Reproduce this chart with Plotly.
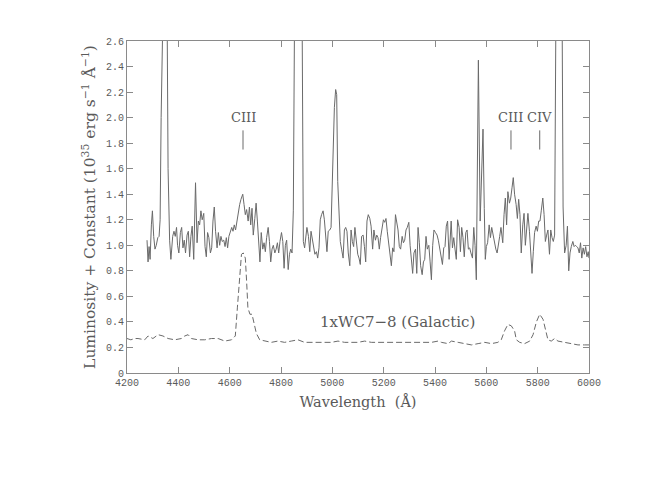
import plotly.graph_objects as go

GREY = "#6a6a6a"
AXIS = "#8a8a8a"
TEXT = "#5a5a5a"
SERIF = "DejaVu Serif"

# observed spectrum (solid)
SPEC_WAVE = [
    4278, 4282, 4286, 4290, 4295, 4299, 4304, 4309, 4314, 4320, 4325, 4329,
    4333, 4337, 4343, 4350, 4356, 4360, 4366, 4371, 4378, 4383, 4388, 4393,
    4397, 4402, 4408, 4413, 4418, 4423, 4428, 4434, 4439, 4444, 4449, 4454,
    4460, 4465, 4467, 4473, 4478, 4483, 4488, 4493, 4499, 4504, 4509, 4514,
    4519, 4525, 4530, 4535, 4540, 4545, 4551, 4556, 4561, 4566, 4571, 4577,
    4582, 4587, 4592, 4597, 4603, 4608, 4613, 4618, 4623, 4629, 4634, 4639,
    4644, 4649, 4651, 4656, 4661, 4666, 4672, 4677, 4682, 4687, 4692, 4698,
    4703, 4708, 4713, 4718, 4723, 4729, 4734, 4739, 4744, 4750, 4755, 4760,
    4765, 4770, 4776, 4781, 4786, 4791, 4796, 4802, 4807, 4812, 4817, 4822,
    4828, 4833, 4838, 4843, 4848, 4852, 4858, 4868, 4878, 4882, 4886, 4887,
    4892, 4896, 4901, 4907, 4912, 4917, 4922, 4927, 4932, 4938, 4943, 4948,
    4953, 4958, 4964, 4969, 4974, 4979, 4984, 4990, 4995, 5000, 5004, 5008,
    5013, 5017, 5021, 5025, 5031, 5036, 5042, 5047, 5052, 5057, 5062, 5068,
    5073, 5078, 5083, 5088, 5094, 5099, 5104, 5109, 5114, 5120, 5125, 5130,
    5135, 5140, 5146, 5151, 5157, 5162, 5168, 5173, 5178, 5183, 5188, 5194,
    5199, 5204, 5209, 5214, 5220, 5225, 5230, 5235, 5240, 5246, 5251, 5256,
    5261, 5266, 5272, 5277, 5282, 5287, 5292, 5298, 5303, 5308, 5313, 5318,
    5324, 5329, 5334, 5339, 5344, 5350, 5355, 5360, 5365, 5370, 5376, 5381,
    5386, 5391, 5396, 5402, 5408, 5413, 5418, 5423, 5429, 5434, 5439, 5444,
    5449, 5455, 5460, 5463, 5468, 5473, 5478, 5483, 5488, 5494, 5499, 5504,
    5509, 5514, 5520, 5525, 5530, 5535, 5540, 5546, 5551, 5556, 5561, 5569,
    5576, 5581, 5587, 5592, 5596, 5600, 5605, 5611, 5616, 5621, 5626, 5631,
    5637, 5642, 5647, 5652, 5657, 5664, 5669, 5674, 5679, 5684, 5690, 5695,
    5700, 5705, 5710, 5716, 5721, 5726, 5731, 5736, 5742, 5747, 5752, 5757,
    5762, 5768, 5773, 5778, 5783, 5788, 5794, 5799, 5804, 5809, 5814, 5820,
    5825, 5830, 5835, 5840, 5846, 5851, 5856, 5861, 5866, 5870, 5876, 5888,
    5895, 5899, 5905, 5911, 5916, 5921, 5926, 5931, 5937, 5942, 5947, 5952,
    5957, 5962, 5967, 5972, 5977, 5982, 5987, 5992, 5997, 6000,
]
SPEC_FLUX = [
    1.04, 0.87, 0.99, 0.89, 1.16, 1.27, 1.07, 0.97, 1.00, 1.06, 1.07, 1.20,
    2.00, 2.90, 4.00, 4.00, 2.90, 1.60, 1.04, 0.89, 1.07, 1.11, 1.07, 1.14,
    1.00, 0.94, 1.10, 1.14, 0.98, 1.04, 0.94, 1.08, 1.11, 0.91, 1.07, 1.15,
    0.89, 1.32, 1.49, 1.02, 1.19, 1.16, 1.27, 1.20, 1.25, 0.99, 0.91, 1.10,
    1.06, 0.94, 0.98, 1.19, 1.30, 1.11, 0.98, 1.10, 1.00, 1.07, 1.03, 1.04,
    0.99, 1.06, 0.98, 1.07, 1.10, 1.14, 1.11, 1.16, 1.12, 1.20, 1.25, 1.32,
    1.36, 1.38, 1.40, 1.32, 1.24, 1.28, 1.19, 1.30, 1.16, 1.29, 1.08, 1.21,
    1.33, 1.19, 1.00, 0.87, 1.10, 0.97, 1.02, 0.95, 1.06, 1.14, 1.03, 0.87,
    0.97, 1.00, 0.94, 0.97, 1.02, 0.94, 1.03, 1.10, 1.03, 0.82, 1.00, 1.04,
    0.81, 0.93, 0.97, 0.94, 1.27, 2.90, 4.50, 4.50, 4.00, 2.90, 1.40, 1.03,
    0.98, 1.08, 1.14, 1.07, 0.95, 1.11, 1.04, 0.97, 0.93, 0.95, 0.90, 0.98,
    1.20, 1.24, 1.27, 1.20, 1.08, 0.95, 1.11, 1.12, 1.14, 1.50, 1.80, 2.08,
    2.22, 2.18, 1.50, 1.24, 1.03, 0.97, 0.90, 1.12, 1.14, 1.11, 0.94, 0.84,
    1.12, 1.03, 0.99, 1.14, 1.04, 0.93, 0.90, 0.85, 1.07, 1.08, 0.99, 0.87,
    1.19, 1.24, 1.21, 1.15, 0.97, 1.12, 1.04, 1.08, 1.06, 0.97, 1.06, 1.14,
    1.20, 1.18, 1.21, 1.11, 1.00, 0.91, 0.84, 0.98, 0.95, 1.24, 1.19, 1.12,
    0.99, 0.97, 1.07, 1.02, 1.04, 1.12, 1.14, 1.18, 1.00, 0.89, 0.78, 0.94,
    0.97, 0.78, 1.14, 1.02, 0.84, 0.77, 0.87, 0.89, 1.07, 0.97, 1.00, 0.87,
    0.73, 1.00, 1.12, 1.10, 1.08, 1.04, 0.97, 0.93, 0.85, 0.98, 0.99, 1.15,
    1.19, 0.89, 1.07, 1.19, 0.98, 1.06, 0.97, 0.89, 1.20, 1.14, 0.95, 1.14,
    1.06, 0.91, 1.10, 1.12, 0.97, 0.98, 0.94, 0.90, 1.14, 1.00, 0.73, 2.45,
    1.19, 1.60, 1.91, 1.29, 0.89, 0.99, 1.02, 1.16, 1.06, 1.14, 1.08, 1.02,
    0.97, 0.94, 1.03, 1.07, 1.14, 1.02, 1.24, 1.37, 1.16, 1.42, 1.33, 1.37,
    1.45, 1.53, 1.40, 1.32, 1.21, 1.36, 1.24, 0.94, 1.16, 1.25, 1.00, 1.16,
    1.25, 1.11, 0.95, 0.78, 0.95, 1.10, 1.15, 1.11, 1.19, 1.19, 1.27, 1.37,
    1.24, 1.03, 1.08, 1.12, 0.93, 1.12, 1.06, 1.03, 1.08, 2.90, 4.50, 4.50,
    2.90, 1.30, 0.94, 1.00, 1.15, 0.80, 0.94, 0.99, 1.03, 0.99, 1.00, 0.99,
    0.98, 0.94, 1.02, 0.90, 0.98, 0.93, 0.99, 0.91, 0.95, 0.90,
]

# galactic WC7-8 template (dashed)
TEMPLATE_WAVE = [
    4200, 4215, 4230, 4243, 4269, 4282, 4301, 4321, 4340, 4360, 4386, 4412,
    4425, 4438, 4451, 4477, 4503, 4529, 4555, 4581, 4607, 4622, 4630, 4639,
    4646, 4653, 4661, 4666, 4671, 4679, 4687, 4695, 4704, 4717, 4736, 4762,
    4788, 4814, 4840, 4866, 4892, 4918, 4944, 4970, 4996, 5022, 5048, 5074,
    5100, 5126, 5152, 5178, 5230, 5282, 5334, 5386, 5412, 5425, 5451, 5464,
    5490, 5516, 5542, 5568, 5594, 5620, 5645, 5658, 5671, 5684, 5697, 5710,
    5717, 5730, 5749, 5769, 5782, 5795, 5808, 5821, 5830, 5840, 5853, 5866,
    5879, 5905, 5931, 5957, 5983, 6000,
]
TEMPLATE_FLUX = [
    0.27, 0.26, 0.27, 0.27, 0.26, 0.29, 0.27, 0.30, 0.29, 0.27, 0.26, 0.27,
    0.29, 0.30, 0.27, 0.26, 0.26, 0.27, 0.27, 0.25, 0.26, 0.29, 0.51, 0.77,
    0.93, 0.94, 0.90, 0.72, 0.51, 0.46, 0.46, 0.39, 0.31, 0.26, 0.25, 0.24,
    0.25, 0.24, 0.25, 0.26, 0.24, 0.24, 0.24, 0.24, 0.24, 0.25, 0.24, 0.24,
    0.24, 0.25, 0.24, 0.24, 0.24, 0.24, 0.24, 0.24, 0.25, 0.24, 0.23, 0.25,
    0.24, 0.23, 0.22, 0.23, 0.24, 0.23, 0.24, 0.26, 0.33, 0.38, 0.37, 0.33,
    0.26, 0.24, 0.23, 0.25, 0.30, 0.40, 0.46, 0.42, 0.33, 0.26, 0.25, 0.27,
    0.25, 0.24, 0.23, 0.22, 0.22, 0.22,
]
TEMPLATE_LABEL = "1xWC7\u22128 (Galactic)"

LINE_LABELS = ["CIII", "CIII", "CIV"]
LINE_WAVES = [4652, 5696, 5808]

X_TICKS = [4200, 4400, 4600, 4800, 5000, 5200, 5400, 5600, 5800, 6000]
Y_TICKS = [0, 0.2, 0.4, 0.6, 0.8, 1.0, 1.2, 1.4, 1.6, 1.8, 2.0, 2.2, 2.4, 2.6]
Y_TICKTEXT = ["0", "0.2", "0.4", "0.6", "0.8", "1.0", "1.2", "1.4", "1.6",
              "1.8", "2.0", "2.2", "2.4", "2.6"]

fig = go.Figure()

fig.add_trace(go.Scatter(
    x=SPEC_WAVE, y=SPEC_FLUX, mode="lines",
    line=dict(color=GREY, width=1), showlegend=False,
))
fig.add_trace(go.Scatter(
    x=TEMPLATE_WAVE, y=TEMPLATE_FLUX, mode="lines",
    line=dict(color=GREY, width=1, dash="6px,3px"), showlegend=False,
))

for lab, w in zip(LINE_LABELS, LINE_WAVES):
    fig.add_shape(type="line", xref="x", yref="y", x0=w, x1=w, y0=1.75, y1=1.9,
                  line=dict(color=GREY, width=1))
    fig.add_annotation(x=w, y=2.0, text=lab, showarrow=False,
                       font=dict(family=SERIF, size=13, color=TEXT))

fig.add_annotation(x=5254, y=0.40, text=TEMPLATE_LABEL, showarrow=False,
                   font=dict(family=SERIF, size=15, color=TEXT))

axis_common = dict(
    showline=True, linecolor=AXIS, linewidth=1, mirror="ticks",
    ticks="inside", ticklen=6, tickcolor=AXIS, showgrid=False, zeroline=False,
    tickfont=dict(family="Liberation Mono", size=10, color=TEXT),
)

fig.update_xaxes(
    range=[4200, 6000], tickvals=X_TICKS,
    title=dict(text="Wavelength  (Å)", standoff=8,
               font=dict(family=SERIF, size=14.5, color=TEXT)),
    **axis_common,
)
fig.update_yaxes(
    range=[0, 2.6], tickvals=Y_TICKS, ticktext=Y_TICKTEXT,
    title=dict(text="Luminosity + Constant (10<sup>35</sup> erg s<sup>\u22121</sup> Å<sup>\u22121</sup>)",
               standoff=6,
               font=dict(family=SERIF, size=15.5, color=TEXT)),
    **axis_common,
)

fig.update_layout(
    width=645, height=498,
    plot_bgcolor="white", paper_bgcolor="white",
    margin=dict(l=119, r=64, t=33, b=133),
)

fig.write_html("out.html")
